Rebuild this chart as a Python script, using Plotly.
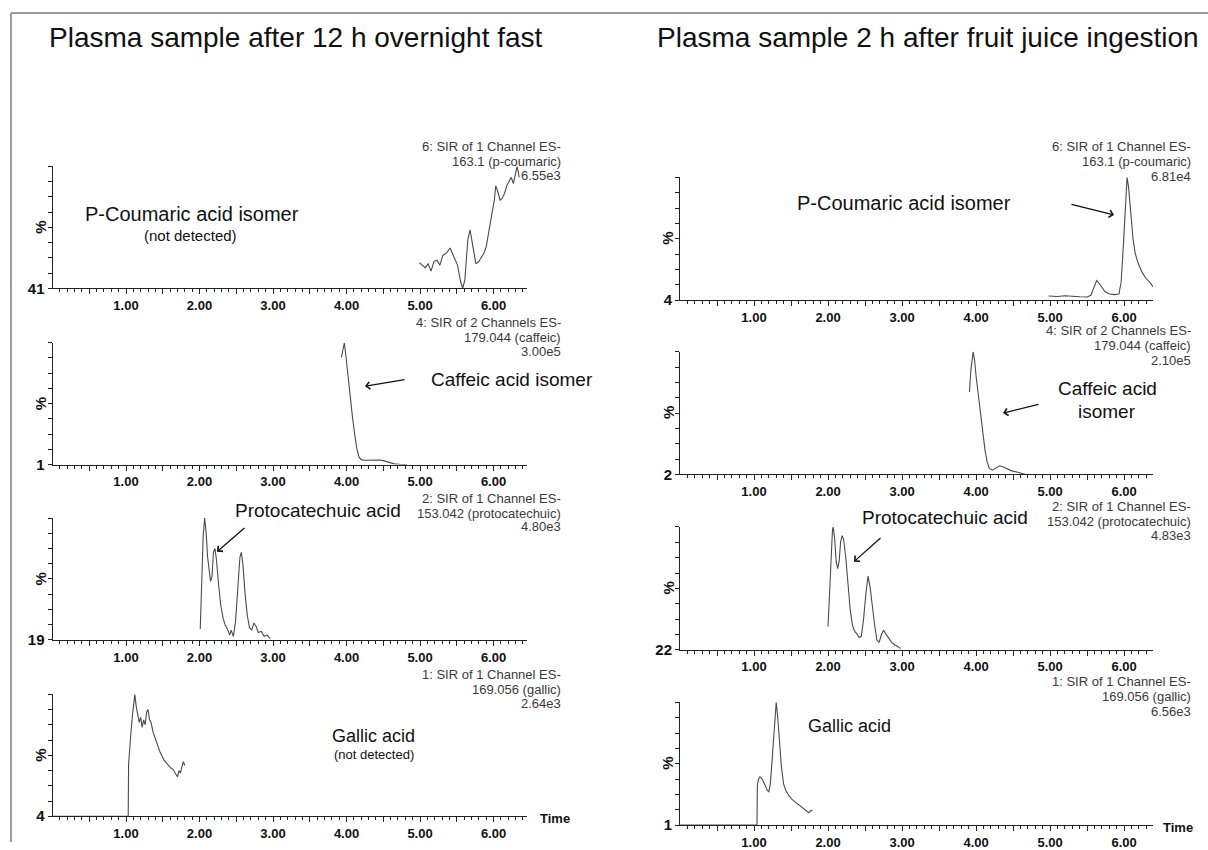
import plotly.graph_objects as go

W, H = 1208, 850

# ---------------- data (retention time in min, relative intensity in %) ----------------
# Left column: plasma after 12 h overnight fast
fast_coumaric_t = [4.99, 5.03, 5.07, 5.11, 5.15, 5.19, 5.23, 5.27, 5.31, 5.36, 5.41, 5.46, 5.51, 5.55, 5.58,
                   5.61, 5.65, 5.68, 5.72, 5.76, 5.80, 5.84, 5.87, 5.90, 5.94, 5.98, 6.01, 6.03, 6.06, 6.09,
                   6.12, 6.15, 6.18, 6.21, 6.24, 6.27, 6.30, 6.32, 6.35]
fast_coumaric_pct = [53.4, 52.2, 51.0, 52.8, 49.3, 54.0, 54.6, 52.2, 56.9, 58.1, 60.5, 56.3, 52.2, 44.5, 41.0,
                     45.1, 64.6, 69.3, 59.9, 52.8, 54.0, 56.3, 58.1, 61.1, 70.5, 77.6, 83.5, 90.6, 87.6, 83.5,
                     84.7, 87.0, 90.6, 92.9, 94.7, 91.7, 95.9, 100.0, 94.7]

fast_caffeic_t = [3.93, 3.95, 3.97, 3.99, 4.02, 4.05, 4.08, 4.11, 4.14, 4.17, 4.20, 4.25, 4.30, 4.35, 4.40,
                  4.45, 4.50, 4.55, 4.60, 4.65, 4.72, 4.82]
fast_caffeic_pct = [88, 95, 100, 90, 72, 55, 40, 26, 14, 7, 5, 4.5, 4.7, 4.6, 5.0,
                    4.7, 4.2, 3.2, 2.3, 1.6, 1.2, 1.0]

fast_proto_t = [2.01, 2.03, 2.05, 2.07, 2.09, 2.11, 2.13, 2.15, 2.17, 2.19, 2.21, 2.23, 2.26, 2.29, 2.32,
                2.35, 2.38, 2.41, 2.43, 2.46, 2.49, 2.52, 2.55, 2.57, 2.59, 2.62, 2.65, 2.68, 2.71, 2.74,
                2.77, 2.80, 2.84, 2.88, 2.92, 2.96]
fast_proto_pct = [26.3, 55.5, 87.9, 100.0, 90.3, 74.1, 63.6, 57.9, 61.1, 77.3, 79.8, 72.5, 55.5, 41.7, 33.6,
                  28.7, 26.3, 22.2, 25.5, 21.4, 31.2, 55.5, 74.1, 77.3, 69.2, 49.8, 35.2, 27.1, 25.5, 30.3,
                  27.9, 23.9, 24.7, 21.4, 22.2, 19.8]

fast_gallic_t = [0.00, 0.50, 1.03, 1.035, 1.05, 1.07, 1.09, 1.11, 1.12, 1.14, 1.16, 1.18, 1.20, 1.22, 1.24,
                 1.26, 1.28, 1.30, 1.32, 1.34, 1.37, 1.40, 1.43, 1.46, 1.49, 1.52, 1.55, 1.58, 1.61, 1.64,
                 1.67, 1.70, 1.72, 1.74, 1.76, 1.78, 1.80]
fast_gallic_pct = [4, 4, 4, 45, 60, 72, 85, 96, 100, 90, 84, 78, 82, 74, 80,
                   76, 86, 88, 80, 78, 70, 64, 60, 55, 51, 48, 46, 44, 42, 41,
                   38, 35, 40, 38, 43, 47, 44]

# Right column: plasma 2 h after fruit juice ingestion
juice_coumaric_t = [4.98, 5.10, 5.20, 5.30, 5.40, 5.50, 5.55, 5.59, 5.63, 5.66, 5.70, 5.74, 5.80, 5.87, 5.93,
                    5.96, 5.99, 6.02, 6.04, 6.06, 6.09, 6.12, 6.15, 6.19, 6.24, 6.29, 6.34, 6.39]
juice_coumaric_pct = [7.3, 6.9, 7.4, 6.9, 6.7, 6.5, 7.8, 13.6, 19.4, 17.4, 13.6, 10.7, 8.8, 8.3, 8.8,
                      18.4, 47.2, 80.8, 100.0, 92.3, 71.2, 52.0, 40.5, 32.8, 26.1, 21.3, 18.4, 14.6]

juice_caffeic_t = [3.91, 3.93, 3.96, 3.98, 4.00, 4.03, 4.06, 4.09, 4.12, 4.15, 4.18, 4.22, 4.27, 4.32, 4.37,
                   4.42, 4.48, 4.55, 4.62, 4.67]
juice_caffeic_pct = [67.7, 85.3, 100.0, 93.1, 80.4, 64.7, 51.0, 35.3, 21.6, 11.8, 6.9, 5.4, 6.9, 8.9, 7.9,
                     6.4, 4.9, 4.0, 3.0, 2.0]

juice_proto_t = [2.00, 2.02, 2.04, 2.06, 2.07, 2.09, 2.11, 2.13, 2.15, 2.17, 2.19, 2.21, 2.24, 2.27, 2.30,
                 2.33, 2.36, 2.39, 2.42, 2.45, 2.48, 2.51, 2.54, 2.57, 2.60, 2.63, 2.66, 2.69, 2.72, 2.75,
                 2.78, 2.82, 2.86, 2.90, 2.94, 2.98]
juice_proto_pct = [36.8, 57.1, 80.5, 98.4, 100.0, 92.2, 78.2, 73.5, 78.2, 90.6, 94.5, 92.2, 80.5, 61.0, 47.0,
                   37.6, 33.7, 32.1, 29.8, 30.6, 41.5, 57.1, 68.8, 61.0, 47.0, 37.6, 28.2, 26.7, 31.4, 34.5,
                   32.1, 29.0, 26.7, 25.1, 24.3, 22.8]

juice_gallic_t = [0.00, 0.50, 1.04, 1.045, 1.06, 1.08, 1.10, 1.12, 1.15, 1.18, 1.20, 1.22, 1.24, 1.26, 1.28,
                  1.30, 1.32, 1.34, 1.37, 1.40, 1.43, 1.47, 1.51, 1.55, 1.59, 1.63, 1.67, 1.71, 1.74, 1.77,
                  1.79]
juice_gallic_pct = [1, 1, 1, 33, 38, 40, 39, 37, 33, 29, 28, 34, 50, 70, 90,
                    100, 88, 70, 48, 34, 29, 25, 22, 20, 18, 16, 14, 12.5, 11, 13,
                    12.5]

# axis baselines (bottom label of each trace, %)
fast_offsets = [41, 1, 19, 4]
juice_offsets = [4, 2, 22, 1]

# channel header texts
channel_lines = [
    ["6: SIR of 1 Channel ES-", "163.1 (p-coumaric)"],
    ["4: SIR of 2 Channels ES-", "179.044 (caffeic)"],
    ["2: SIR of 1 Channel ES-", "153.042 (protocatechuic)"],
    ["1: SIR of 1 Channel ES-", "169.056 (gallic)"],
]
fast_scales = ["6.55e3", "3.00e5", "4.80e3", "2.64e3"]
juice_scales = ["6.81e4", "2.10e5", "4.83e3", "6.56e3"]

x_major_vals = [0.5, 1.0, 1.5, 2.0, 2.5, 3.0, 3.5, 4.0, 4.5, 5.0, 5.5, 6.0]
x_major_text = ["", "1.00", "", "2.00", "", "3.00", "", "4.00", "", "5.00", "", "6.00"]

titles = ["Plasma sample after 12 h overnight fast", "Plasma sample 2 h after fruit juice ingestion"]

# ---------------- geometry (pixels) ----------------
FONT = "Liberation Sans, Arial, sans-serif"
cols = [
    dict(x0=52.5, x1=527.0, xmax=6.455, tops=[168, 346, 523, 701], h=123, hdr_right=563, time_x=538,
         hdr_dy=[[-20, -5, 9]] * 4),
    dict(x0=680.0, x1=1153.0, xmax=6.39, tops=[179, 355, 532, 709], h=124, hdr_right=1193, time_x=1161,
         hdr_dy=[[-31, -16, -1], [-21, -6, 9], [-21, -6, 9], [-21, -6, 9]]),
]
series = [
    [(fast_coumaric_t, fast_coumaric_pct), (fast_caffeic_t, fast_caffeic_pct),
     (fast_proto_t, fast_proto_pct), (fast_gallic_t, fast_gallic_pct)],
    [(juice_coumaric_t, juice_coumaric_pct), (juice_caffeic_t, juice_caffeic_pct),
     (juice_proto_t, juice_proto_pct), (juice_gallic_t, juice_gallic_pct)],
]
offsets = [fast_offsets, juice_offsets]
scales = [fast_scales, juice_scales]


def px(x):
    return x / W


def py(y):
    return 1 - y / H


minor_vals = [round(i * 0.1, 2) for i in range(0, 65) if i % 5 != 0]

fig = go.Figure()
layout = {}
annotations = []
n = 0
for c, col in enumerate(cols):
    for r in range(4):
        n += 1
        sfx = "" if n == 1 else str(n)
        top = col["tops"][r]
        bot = top + col["h"]
        off = offsets[c][r]
        t, v = series[c][r]
        fig.add_trace(go.Scatter(x=t, y=v, mode="lines", line=dict(color="#4a4a4a", width=1.1),
                                 xaxis="x" + sfx, yaxis="y" + sfx, showlegend=False, hoverinfo="skip"))
        layout["xaxis" + sfx] = dict(
            domain=[px(col["x0"]), px(col["x1"])], range=[0, col["xmax"]], anchor="y" + sfx,
            tickmode="array", tickvals=x_major_vals, ticktext=x_major_text,
            ticks="outside", ticklen=5, tickwidth=1, tickcolor="#222",
            minor=dict(tickmode="array", tickvals=minor_vals, ticks="outside", ticklen=3,
                       tickwidth=1, tickcolor="#222"),
            showline=True, linecolor="#222", linewidth=1, showgrid=False, zeroline=False,
            tickfont=dict(family=FONT, size=13, color="#111", weight="bold"), fixedrange=True)
        yt = [off + k * (100 - off) / 8 for k in range(9)]
        layout["yaxis" + sfx] = dict(
            domain=[py(bot), py(top)], range=[off, 100], anchor="x" + sfx,
            tickmode="array", tickvals=yt, ticktext=[str(off)] + [""] * 8,
            ticks="outside", ticklen=4, tickwidth=1, tickcolor="#222",
            showline=True, linecolor="#222", linewidth=1, showgrid=False, zeroline=False,
            tickfont=dict(family=FONT, size=15, color="#111", weight="bold"), fixedrange=True)
        # % label
        annotations.append(dict(x=px(col["x0"] - 12), y=py((top + bot) / 2), xref="paper", yref="paper",
                                text="%", textangle=-90, showarrow=False,
                                font=dict(family=FONT, size=15, color="#111", weight="bold"),
                                xanchor="center", yanchor="middle"))
        # channel header
        for txt, dy in zip(channel_lines[r] + [scales[c][r]], col["hdr_dy"][r]):
            annotations.append(dict(x=px(col["hdr_right"]), y=py(top + dy), xref="paper", yref="paper",
                                    text=txt, showarrow=False, xanchor="right", yanchor="middle",
                                    font=dict(family=FONT, size=13, color="#3a3a3a")))
    # Time label
    annotations.append(dict(x=px(col["time_x"]), y=py(col["tops"][3] + col["h"] + 2), xref="paper", yref="paper",
                            text="Time", showarrow=False, xanchor="left", yanchor="middle",
                            font=dict(family=FONT, size=13, color="#111", weight="bold")))

# column titles
annotations.append(dict(x=px(47), y=py(38), xref="paper", yref="paper", text=titles[0], showarrow=False,
                        xanchor="left", yanchor="middle", font=dict(family=FONT, size=28, color="#111")))
annotations.append(dict(x=px(655), y=py(38), xref="paper", yref="paper", text=titles[1], showarrow=False,
                        xanchor="left", yanchor="middle", font=dict(family=FONT, size=28, color="#111")))


def label(text, x, y, size):
    annotations.append(dict(x=px(x), y=py(y), xref="paper", yref="paper", text=text, showarrow=False,
                            xanchor="center", yanchor="middle", font=dict(family=FONT, size=size, color="#111")))


def arrow(tx, ty, hx, hy):
    annotations.append(dict(x=px(hx), y=py(hy), xref="paper", yref="paper", ax=tx - hx, ay=ty - hy,
                            text="", showarrow=True, arrowhead=4, arrowsize=1.1, arrowwidth=1.3,
                            arrowcolor="#111", standoff=0, startstandoff=0))


# compound labels (left)
label("P-Coumaric acid isomer", 192, 216, 20)
label("(not detected)", 190, 238, 15)
label("Caffeic acid isomer", 512, 383, 19)
arrow(406, 383, 365, 390)
label("Protocatechuic acid", 318, 515, 19)
arrow(246, 532, 217, 557)
label("Gallic acid", 373, 743, 18)
label("(not detected)", 374, 762, 13)
# compound labels (right)
label("P-Coumaric acid isomer", 904, 205, 20)
arrow(1070, 206, 1114, 217)
label("Caffeic acid", 1107, 392, 19)
label("isomer", 1107, 415, 19)
arrow(1040, 408, 1003, 417)
label("Protocatechuic acid", 945, 522, 19)
arrow(882, 542, 854, 567)
label("Gallic acid", 849, 733, 18)

layout["annotations"] = annotations
layout["shapes"] = [
    dict(type="line", xref="paper", yref="paper", x0=px(11), x1=1.0, y0=py(13), y1=py(13),
         line=dict(color="#9a9a9a", width=2)),
    dict(type="line", xref="paper", yref="paper", x0=px(11), x1=px(11), y0=py(13), y1=0,
         line=dict(color="#9a9a9a", width=2)),
]
fig.update_layout(width=W, height=H, margin=dict(l=0, r=0, t=0, b=0), paper_bgcolor="white",
                  plot_bgcolor="white", showlegend=False, **layout)
fig.write_html("out.html", config={"displayModeBar": False})
